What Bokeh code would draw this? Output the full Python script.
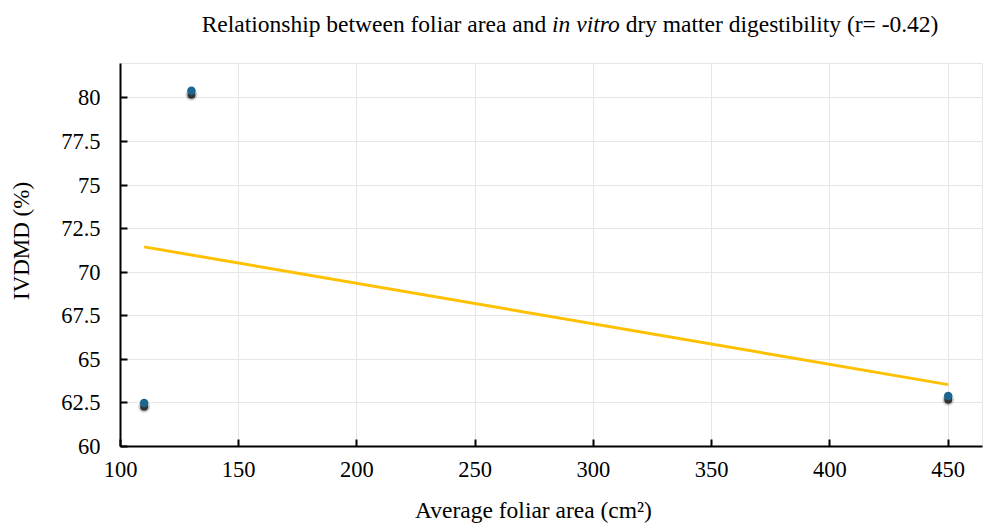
from bokeh.plotting import figure
from bokeh.models import Range1d, FixedTicker, Div
from bokeh.layouts import column, row
from bokeh.embed import file_html
from bokeh.resources import INLINE

# Data
foliar_area = [110, 130, 450]
ivdmd = [62.5, 80.4, 62.9]
trend_x = [110, 450]
trend_y = [71.45, 63.55]
x_ticks = [100, 150, 200, 250, 300, 350, 400, 450]
y_ticks = [60, 62.5, 65, 67.5, 70, 72.5, 75, 77.5, 80]
title_parts = ["Relationship between foliar area and", "in vitro", "dry matter digestibility (r= -0.42)"]
x_label = "Average foliar area (cm²)"
y_label = "IVDMD (%)"

FONT = "Liberation Serif"
W, H = 983, 528
TITLE_H, XLAB_H, YLAB_W = 50, 33, 45
FIG_W, FIG_H = W - YLAB_W, H - TITLE_H - XLAB_H

p = figure(width=FIG_W, height=FIG_H, output_backend="svg", toolbar_location=None,
           x_range=Range1d(100, 464.5), y_range=Range1d(60, 81.97),
           min_border_left=120 - YLAB_W, min_border_right=1, min_border_top=63 - TITLE_H,
           min_border_bottom=FIG_H - (446 - TITLE_H))
p.background_fill_color = "white"
p.border_fill_color = "white"
p.outline_line_color = "#e6e6e6"
p.outline_line_width = 1

# trend line
p.line(trend_x, trend_y, line_color="#FFC000", line_width=3)

# points with soft shadow
shadow_y = [v - 0.22 for v in ivdmd]
p.scatter(foliar_area, shadow_y, size=12, fill_color="black", fill_alpha=0.18, line_color=None)
p.scatter(foliar_area, shadow_y, size=8, fill_color="black", fill_alpha=0.75, line_color=None)
p.scatter(foliar_area, ivdmd, size=8.5, fill_color="#1d6690", line_color=None)

for ax in (p.xaxis[0], p.yaxis[0]):
    ax.axis_line_color = "black"
    ax.axis_line_width = 2
    ax.major_tick_line_color = "black"
    ax.major_tick_line_width = 2
    ax.major_tick_in = 7
    ax.major_tick_out = 0
    ax.minor_tick_line_color = None
    ax.major_label_text_font = FONT
    ax.major_label_text_font_size = "22.5px"
    ax.major_label_text_color = "black"

p.xaxis.ticker = FixedTicker(ticks=x_ticks)
p.yaxis.ticker = FixedTicker(ticks=y_ticks)
p.yaxis.major_label_overrides = {v: ("%g" % v) for v in y_ticks}
p.xaxis.major_label_standoff = 15
p.yaxis.major_label_standoff = 20

p.xgrid.ticker = FixedTicker(ticks=x_ticks)
p.ygrid.ticker = FixedTicker(ticks=y_ticks)
p.xgrid.grid_line_color = "#e6e6e6"
p.ygrid.grid_line_color = "#e6e6e6"
p.xgrid.grid_line_width = 1
p.ygrid.grid_line_width = 1

base = f"font-family:'{FONT}'; color:black; line-height:1; white-space:nowrap; position:absolute;"

title_html = (
    f'<div style="position:relative; width:{W}px; height:{TITLE_H}px;">'
    f'<div style="{base} left:201.7px; top:12.6px; font-size:23.5px;">'
    f'{title_parts[0]} <i>{title_parts[1]}</i> {title_parts[2]}</div></div>'
)
title_div = Div(text=title_html, width=W, height=TITLE_H, margin=0)

ylab_html = (
    f'<div style="position:relative; width:{YLAB_W}px; height:{FIG_H}px;">'
    f'<div style="{base} left:21px; top:{241 - TITLE_H}px; font-size:23px; '
    f'transform: translate(-50%,-50%) rotate(-90deg);">{y_label}</div></div>'
)
ylab_div = Div(text=ylab_html, width=YLAB_W, height=FIG_H, margin=0)

xlab_html = (
    f'<div style="position:relative; width:{W}px; height:{XLAB_H}px;">'
    f'<div style="{base} left:533.5px; top:4px; font-size:23.5px; '
    f'transform: translateX(-50%);">{x_label}</div></div>'
)
xlab_div = Div(text=xlab_html, width=W, height=XLAB_H, margin=0)

layout = column(title_div, row(ylab_div, p, spacing=0), xlab_div, spacing=0)

open("out.html", "w").write(file_html(layout, INLINE))
